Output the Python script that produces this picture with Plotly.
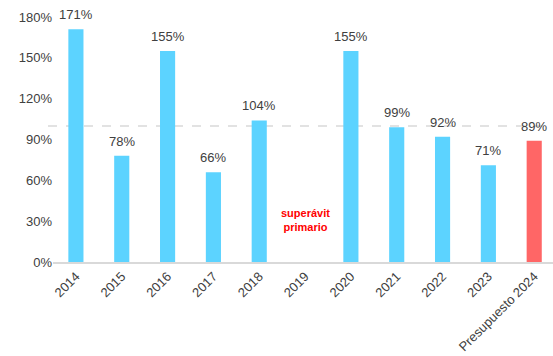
import plotly.graph_objects as go

# Ratio by year (percent); 2019 has no bar (primary surplus)
categories = ["2014", "2015", "2016", "2017", "2018", "2019",
              "2020", "2021", "2022", "2023", "Presupuesto 2024"]
values = [171, 78, 155, 66, 104, None, 155, 99, 92, 71, 89]
bar_colors = ["#5CD3FF"] * 10 + ["#FF6666"]
y_ticks = [0, 30, 60, 90, 120, 150, 180]
reference_level = 100
surplus_label = "<b>superávit<br>primario</b>"
surplus_year = "2019"
surplus_label_y = 31

FONT = "Liberation Sans"

fig = go.Figure()
fig.add_trace(go.Bar(
    x=categories,
    y=values,
    marker=dict(color=bar_colors, line=dict(width=0)),
    width=0.33,
    hoverinfo="skip",
))

# Value labels above each bar (category axis positions are indices)
for i, val in enumerate(values):
    if val is None:
        continue
    fig.add_annotation(
        x=i, y=val, text=f"{val}%", showarrow=False,
        yanchor="bottom", yshift=5,
        font=dict(family=FONT, size=13, color="#404040"),
    )

fig.add_annotation(
    x=categories.index(surplus_year), y=surplus_label_y,
    text=surplus_label, showarrow=False, yanchor="middle",
    font=dict(family=FONT, size=11, color="#FF0000"),
)

# Dashed reference line at 100%
fig.add_shape(
    type="line", xref="paper", yref="y",
    x0=-0.01, x1=0.978, y0=reference_level, y1=reference_level,
    line=dict(color="#D9D9D9", width=1.5, dash="dash"),
    layer="below",
)

fig.update_layout(
    width=553, height=356,
    margin=dict(l=53, r=0, t=17, b=94),
    paper_bgcolor="white", plot_bgcolor="white",
    showlegend=False,
    font=dict(family=FONT, size=13, color="#595959"),
    xaxis=dict(
        type="category",
        range=[-0.5, 10.41],
        tickangle=-45,
        showline=True, linecolor="#D9D9D9", linewidth=1.5,
        showgrid=False, ticks="",
        tickfont=dict(family=FONT, size=13, color="#404040"),
    ),
    yaxis=dict(
        range=[0, 180],
        tickmode="array",
        tickvals=y_ticks,
        ticktext=[f"{t}%" for t in y_ticks],
        showgrid=False, zeroline=False, showline=False, ticks="",
        tickfont=dict(family=FONT, size=13, color="#404040"),
    ),
)

fig.write_html("out.html")
